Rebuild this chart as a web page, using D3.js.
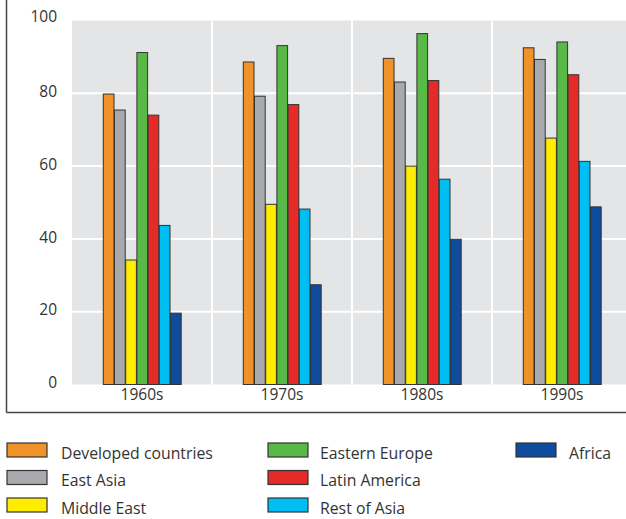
<!DOCTYPE html>
<html><head><meta charset="utf-8">
<script src="https://cdn.jsdelivr.net/npm/d3@7"></script>
<style>
html,body{margin:0;padding:0;background:#fff;}
svg{display:block;}
text{font-family:"Open Sans",sans-serif;fill:#333;}
</style></head>
<body>
<svg id="chart" width="626" height="519"></svg>
<script>
const decades = ["1960s","1970s","1980s","1990s"];
const regions = ["Developed countries","East Asia","Middle East","Eastern Europe","Latin America","Rest of Asia","Africa"];
const colors = ["#f0922a","#a9aaad","#ffec00","#58b947","#e52a27","#00bdf2","#0f4c9e"];
const developed = [79.8, 88.6, 89.6, 92.5];
const eastAsia = [75.4, 79.2, 83.1, 89.3];
const middleEast = [34.2, 49.5, 60.0, 67.7];
const easternEurope = [91.2, 93.1, 96.4, 94.1];
const latinAmerica = [74.0, 76.9, 83.5, 85.1];
const restOfAsia = [43.7, 48.2, 56.4, 61.3];
const africa = [19.6, 27.4, 39.9, 48.8];
const yTicks = [0,20,40,60,80,100];
const seriesValues = [developed, eastAsia, middleEast, easternEurope, latinAmerica, restOfAsia, africa];

const svg = d3.select("#chart");
const plotL = 72, plotR = 632, plotT = 20.5, plotB = 384.5;

const x0 = d3.scaleBand().domain(decades).range([plotL, plotR]).padding(0);
const groupW = 78.4;
const x1 = d3.scaleBand().domain(regions).range([(x0.bandwidth()-groupW)/2, (x0.bandwidth()+groupW)/2]).padding(0);
const y = d3.scaleLinear().domain([0,100]).range([plotB, plotT]);

// frame
svg.append("line").attr("x1",6.5).attr("x2",6.5).attr("y1",0).attr("y2",412.5).attr("stroke","#444").attr("stroke-width",1.5);
svg.append("line").attr("x1",6.5).attr("x2",626).attr("y1",412.5).attr("y2",412.5).attr("stroke","#444").attr("stroke-width",1.5);

// background
svg.append("rect").attr("x",plotL).attr("y",plotT).attr("width",plotR-plotL).attr("height",plotB-plotT).attr("fill","#e4e5e7");

// grid
svg.append("g").selectAll("line").data(yTicks.filter(t=>t>0 && t<100)).join("line")
  .attr("x1",plotL).attr("x2",plotR).attr("y1",d=>y(d)).attr("y2",d=>y(d))
  .attr("stroke","#fff").attr("stroke-width",2);
svg.append("g").selectAll("line").data(decades.slice(1)).join("line")
  .attr("x1",d=>x0(d)).attr("x2",d=>x0(d)).attr("y1",plotT).attr("y2",plotB)
  .attr("stroke","#fff").attr("stroke-width",2);

// y axis
const yAxis = d3.axisLeft(y).tickValues(yTicks).tickSize(0).tickPadding(0);
const gy = svg.append("g").attr("transform",`translate(57,0)`).call(yAxis);
gy.select(".domain").remove();
gy.selectAll("text").style("font-size","15.5px").attr("fill","#333")
  .attr("dy",d=>d===100?"0.05em":"0.2em");

// x axis
const xAxis = d3.axisBottom(x0).tickSize(0).tickPadding(0);
const gx = svg.append("g").attr("transform",`translate(0,${plotB})`).call(xAxis);
gx.select(".domain").remove();
gx.selectAll("text").style("font-size","15.5px").attr("fill","#333").attr("dy","1.0em");

// bars
const groups = svg.append("g").selectAll("g").data(decades).join("g")
  .attr("transform",d=>`translate(${x0(d)},0)`);
groups.selectAll("rect").data((d,i)=>regions.map((r,j)=>({r, c:colors[j], v:seriesValues[j][i]}))).join("rect")
  .attr("x",d=>x1(d.r)+0.5).attr("width",x1.bandwidth()-0.5)
  .attr("y",d=>y(d.v)).attr("height",d=>plotB-y(d.v))
  .attr("fill",d=>d.c).attr("stroke","#333").attr("stroke-width",1);

// legend
const legCols = [7, 268, 516];
const legRows = [443, 470.5, 498];
const legend = svg.append("g").selectAll("g").data(regions).join("g")
  .attr("transform",(d,i)=>`translate(${legCols[Math.floor(i/3)]},${legRows[i%3]})`);
legend.append("rect").attr("width",40).attr("height",14).attr("fill",(d,i)=>colors[i]).attr("stroke","#333").attr("stroke-width",1.2);
legend.append("text").attr("x",(d,i)=>[54,52,53][Math.floor(i/3)]).attr("y",10).attr("dy","0.35em")
  .style("font-size","15.8px").text(d=>d);
</script>
</body></html>
